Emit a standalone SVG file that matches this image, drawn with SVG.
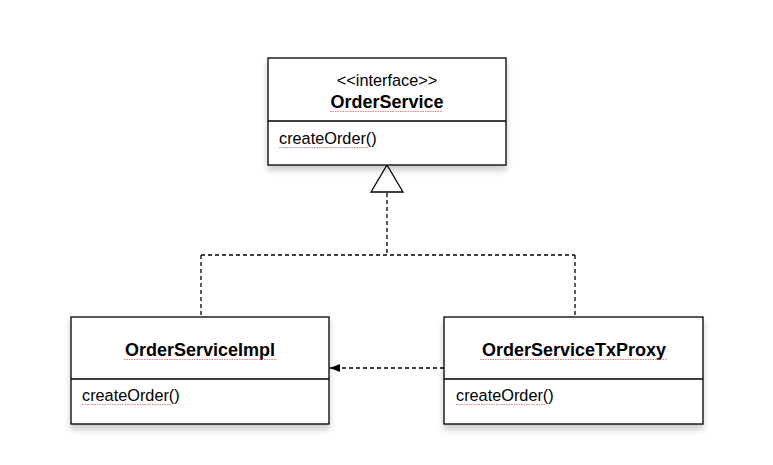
<svg xmlns="http://www.w3.org/2000/svg" width="773" height="465" viewBox="0 0 773 465">
<style>
.box{fill:#fff;stroke:#000;stroke-width:1.3}
.div{stroke:#000;stroke-width:1.3}
.t{font-family:"Liberation Sans",Arial,sans-serif;font-size:16.3px;fill:#000}
.b{font-weight:bold;text-anchor:middle;font-size:18px}
.c{text-anchor:middle}
.dash{fill:none;stroke:#000;stroke-width:1.3;stroke-dasharray:4 3}
.sq{fill:none;stroke:#e06060;stroke-width:0.8;stroke-dasharray:1.5 1}
</style>
<defs>
<filter id="sh" x="-10%" y="-10%" width="120%" height="130%">
<feDropShadow dx="0" dy="5" stdDeviation="3" flood-color="#000" flood-opacity="0.2"/>
</filter>
<marker id="fill" viewBox="0 0 10 10" refX="10" refY="5" markerWidth="10" markerHeight="10" markerUnits="userSpaceOnUse" orient="auto">
<path d="M0,1 L10,5 L0,9 Z" fill="#000"/>
</marker>
</defs>
<rect width="773" height="465" fill="#fff"/>
<g id="connectors">
<path class="dash" d="M387,193 V255 M201,255 H575 M201,255 V317 M575,255 V317"/>
<polygon points="387,165 403,192 371,192" fill="#fff" stroke="#000" stroke-width="1.3"/>
<path class="dash" d="M444,368 H330" marker-end="url(#fill)"/>
</g>
<g id="OrderService">
<rect class="box" x="268" y="58" width="238" height="107" filter="url(#sh)"/>
<line class="div" x1="268" y1="121" x2="506" y2="121"/>
<text class="t c" x="387" y="86">&lt;&lt;interface&gt;&gt;</text>
<text class="t b" x="387" y="108">OrderService</text>
<path class="sq" d="M330,111.5 H443"/>
<text class="t" x="279" y="144">createOrder()</text>
<path class="sq" d="M279,147.5 H368"/>
</g>
<g id="OrderServiceImpl">
<rect class="box" x="71" y="317" width="258" height="107" filter="url(#sh)"/>
<line class="div" x1="71" y1="379" x2="329" y2="379"/>
<text class="t b" x="200" y="356">OrderServiceImpl</text>
<path class="sq" d="M124,359.5 H277"/>
<text class="t" x="82" y="401">createOrder()</text>
<path class="sq" d="M82,404.5 H171"/>
</g>
<g id="OrderServiceTxProxy">
<rect class="box" x="444" y="317" width="259" height="107" filter="url(#sh)"/>
<line class="div" x1="444" y1="379" x2="703" y2="379"/>
<text class="t b" x="574" y="356">OrderServiceTxProxy</text>
<path class="sq" d="M480,359.5 H667"/>
<text class="t" x="456" y="401">createOrder()</text>
<path class="sq" d="M456,404.5 H545"/>
</g>
</svg>
